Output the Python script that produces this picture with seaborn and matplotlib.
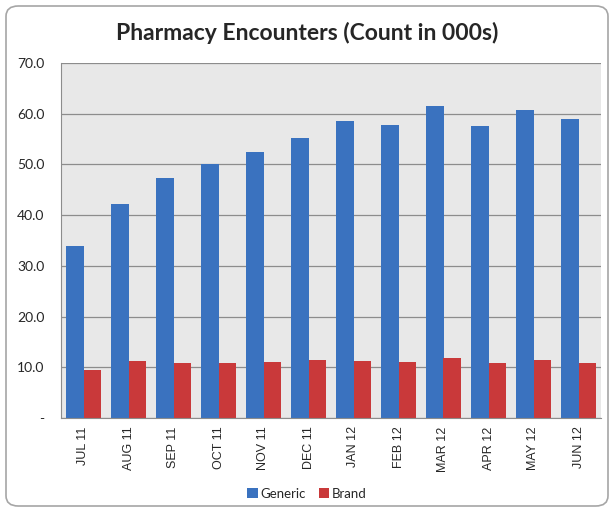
import pandas as pd
import numpy as np
import seaborn as sns
import matplotlib.pyplot as plt
from matplotlib.patches import FancyBboxPatch

months = ['JUL 11', 'AUG 11', 'SEP 11', 'OCT 11', 'NOV 11', 'DEC 11',
          'JAN 12', 'FEB 12', 'MAR 12', 'APR 12', 'MAY 12', 'JUN 12']
generic = [33.9, 42.2, 47.3, 50.1, 52.5, 55.2, 58.5, 57.8, 61.5, 57.6, 60.8, 59.0]
brand = [9.5, 11.3, 10.8, 10.9, 11.0, 11.4, 11.2, 11.1, 11.8, 10.8, 11.5, 10.9]
yticks = [0, 10, 20, 30, 40, 50, 60, 70]
ytick_labels = ['-', '10.0', '20.0', '30.0', '40.0', '50.0', '60.0', '70.0']

df = pd.DataFrame({'Month': months * 2,
                   'Count': generic + brand,
                   'Type': ['Generic'] * len(months) + ['Brand'] * len(months)})

sns.set_style('white')
plt.rcParams['font.family'] = ['Lato', 'DejaVu Sans']

f = plt.figure(figsize=(6.14, 5.12), dpi=100)
ax = f.add_axes([61 / 614, 1 - 418 / 512, 540 / 614, 355 / 512])

# rounded chart border
f.patches.append(FancyBboxPatch((6 / 614, 6 / 512), 602 / 614, 500 / 512,
                                boxstyle='round,pad=0,rounding_size=0.02',
                                transform=f.transFigure, facecolor='none',
                                edgecolor='#a6a6a6', linewidth=1.2, zorder=0))

sns.barplot(ax=ax, data=df, x='Month', y='Count', hue='Type',
            palette={'Generic': '#3a72bf', 'Brand': '#c9393a'},
            width=0.76, gap=0, saturation=1, edgecolor='none')

ax.set_facecolor('#e8e8e8')
ax.set_ylim(0, 70)
ax.set_xlim(-0.5, len(months) - 0.5)
ax.set_yticks(yticks)
ax.set_yticklabels(ytick_labels, fontsize=10)
ax.yaxis.grid(True, color='#8c8c8c', linewidth=0.9)
ax.set_axisbelow(True)
for s in ['top', 'right']:
    ax.spines[s].set_visible(False)
ax.spines['left'].set_color('#8c8c8c')
ax.spines['bottom'].set_color('#8c8c8c')
ax.tick_params(axis='y', length=0, pad=12)
ax.tick_params(axis='x', length=0, pad=6)
for lab in ax.get_xticklabels():
    lab.set_rotation(90)
    lab.set_fontfamily('Liberation Sans')
    lab.set_fontsize(9)
ax.set_xlabel('')
ax.set_ylabel('')

handles, labels = ax.get_legend_handles_labels()
ax.get_legend().remove()
f.legend(handles, labels, loc='center', bbox_to_anchor=(0.5, 1 - 494 / 512),
         ncol=2, frameon=False, fontsize=9.5, handlelength=0.8, handleheight=0.8,
         handletextpad=0.2, columnspacing=1.0)

f.text(0.5, 1 - 33 / 512, 'Pharmacy Encounters (Count in 000s)', ha='center',
       va='center', fontsize=16.5, fontweight='bold')

f.savefig('out.png', dpi=100)
